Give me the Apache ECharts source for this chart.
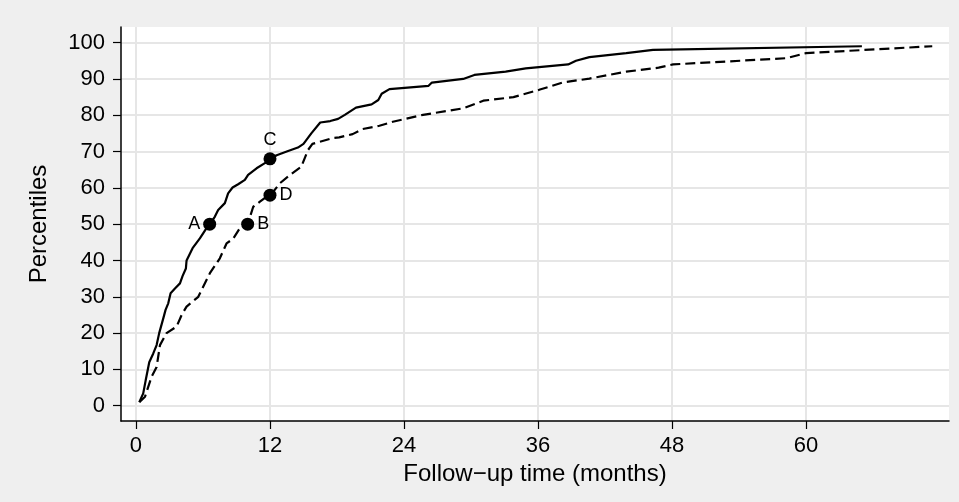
<!DOCTYPE html>
<html>
<head>
<meta charset="utf-8">
<script src="https://cdn.jsdelivr.net/npm/echarts@6/dist/echarts.min.js"></script>
<style>
html,body{margin:0;padding:0;background:#efefef;}
#chart{width:959px;height:502px;}
</style>
</head>
<body>
<div id="chart"></div>
<script>
// Solid curve: follow-up time (months) vs percentile
const solidTime = [0.3,0.65,0.87,1.19,1.55,1.85,2.08,2.44,2.65,2.89,3.1,3.49,3.94,4.17,4.47,4.53,5.07,5.72,6.32,6.62,7.07,7.36,7.96,8.25,8.65,9.15,9.75,10.04,10.8,11.54,12.05,12.6,13.5,14.5,15.0,15.7,16.5,17.4,18.1,18.7,19.7,21.1,21.7,22.0,22.7,26.2,26.5,29.3,30.3,33.1,34.9,38.7,39.4,40.6,43.9,46.3,65.0];
const solidPct  = [1,3.4,7,12,14.4,16.7,20,24,26.4,28.2,31,32.3,33.7,35.7,37.8,40,43.4,46.1,48.9,50,52.1,53.9,55.8,58.5,60.1,61,62.2,63.6,65.4,66.8,68,69,70,71.1,72.1,75,78,78.4,79,80.1,82.1,83,84.2,85.9,87.2,88.1,89,90,91.1,92,92.9,94,95,96,97.1,98,99];
// Dashed curve
const dashedTime = [0.3,0.81,1.4,1.85,2.15,2.74,3.64,4.09,4.53,5.58,6.62,7.51,8.11,8.7,9.3,10.0,10.5,11.1,11.7,12.05,12.9,13.8,14.8,15.4,15.8,17.6,18.2,19.4,20.3,21.8,23.0,25.7,29.3,31.1,33.8,36.1,38.2,40.6,43.9,46.8,48.1,58.2,60.0,71.3];
const dashedPct  = [1,2.5,8,10.7,16.7,20,21.8,25,27.3,30,36.5,40.6,44.7,46,48.9,50,54.8,56.2,57.6,58,61.3,63.6,65.8,70.4,72.1,73.7,73.9,74.8,76.2,77.1,78.2,80.1,81.9,84,85,87,89,90.1,92,93.1,94,95.7,97.1,99];
// Marked points
const pointNames = ['A','B','C','D'];
const pointTime  = [6.6,10,12,12];
const pointPct   = [50,50,68,58];
const pointLabelPos = ['left','right','top','right'];
// Tick labels
const xTicks = [0,12,24,36,48,60];
const yTicks = [0,10,20,30,40,50,60,70,80,90,100];

const zip = (a,b) => a.map((v,i)=>[v,b[i]]);
const FONT = 'Liberation Sans, Arial, sans-serif';

const chart = echarts.init(document.getElementById('chart'));
chart.setOption({
  backgroundColor: '#efefef',
  animation: false,
  grid: {left:121, right:10, top:27, bottom:81, show:true, backgroundColor:'#ffffff', borderWidth:0},
  xAxis: {
    type:'value', min:-1.34, max:72.8,
    name:'Follow\u2212up time (months)', nameLocation:'middle', nameGap:36,
    nameTextStyle:{fontFamily:FONT, fontSize:24, color:'#000'},
    axisLine:{show:true, onZero:false, lineStyle:{color:'#000', width:1.5}},
    axisTick:{show:true, inside:false, length:8, customValues:xTicks, lineStyle:{color:'#000', width:1.2}},
    axisLabel:{show:true, margin:14, customValues:xTicks, fontFamily:FONT, fontSize:22, color:'#000'},
    splitLine:{show:true, lineStyle:{color:'#e6e6e6', width:2}}
  },
  yAxis: {
    type:'value', min:-4.2, max:104.3,
    name:'Percentiles', nameLocation:'middle', nameGap:70,
    nameTextStyle:{fontFamily:FONT, fontSize:24, color:'#000'},
    axisLine:{show:true, onZero:false, lineStyle:{color:'#000', width:1.5}},
    axisTick:{show:true, inside:false, length:8, customValues:yTicks, lineStyle:{color:'#000', width:1.2}},
    axisLabel:{show:true, margin:16, customValues:yTicks, fontFamily:FONT, fontSize:22, color:'#000'},
    splitLine:{show:true, lineStyle:{color:'#e6e6e6', width:2}}
  },
  series: [
    {type:'line', data:zip(solidTime, solidPct), showSymbol:false, symbol:'none',
     lineStyle:{color:'#000', width:2.2, type:'solid'}, z:3},
    {type:'line', data:zip(dashedTime, dashedPct), showSymbol:false, symbol:'none',
     lineStyle:{color:'#000', width:2.2, type:[10,5]}, z:3},
    {type:'scatter', symbol:'circle', symbolSize:13, z:5,
     itemStyle:{color:'#000', opacity:1},
     data: pointNames.map((n,i)=>({name:n, value:[pointTime[i], pointPct[i]],
       label:{show:true, position:pointLabelPos[i], formatter:n, distance:3,
              fontFamily:FONT, fontSize:18, color:'#000'}}))}
  ]
});
</script>
</body>
</html>
